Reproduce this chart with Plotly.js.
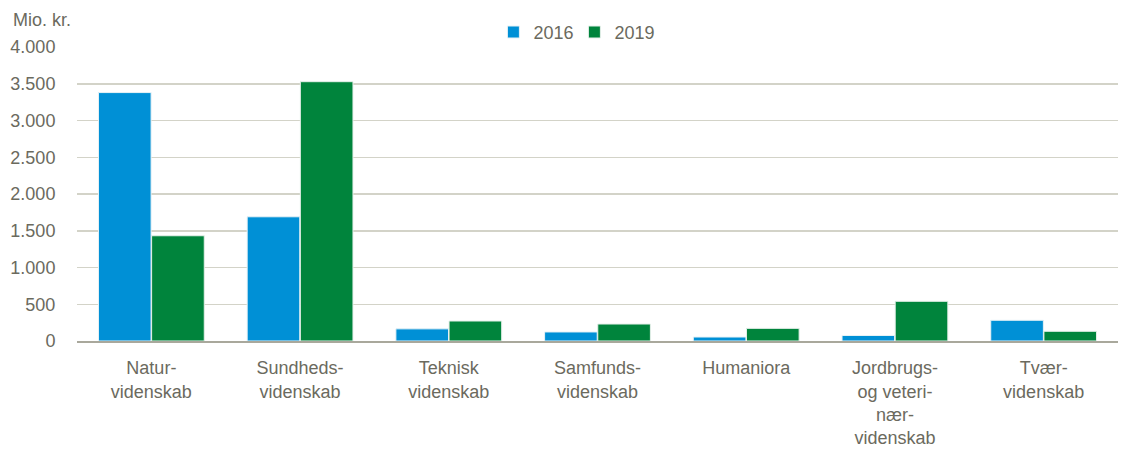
<!DOCTYPE html>
<html>
<head>
<meta charset="utf-8">
<script src="https://cdn.plot.ly/plotly-3.0.1.min.js"></script>
<style>html,body{margin:0;padding:0;background:#fff;}#chart{width:1121px;height:450px;}</style>
</head>
<body>
<div id="chart"></div>
<script>
const categories = ["Natur-<br>videnskab", "Sundheds-<br>videnskab", "Teknisk<br>videnskab", "Samfunds-<br>videnskab", "Humaniora", "Jordbrugs-<br>og veteri-<br>nær-<br>videnskab", "Tvær-<br>videnskab"];
const series2016 = [3380, 1690, 165, 123, 54, 75, 282];
const series2019 = [1432, 3528, 272, 231, 172, 540, 132];
const yTickVals = [0, 500, 1000, 1500, 2000, 2500, 3000, 3500, 4000];
const yTickText = ["0", "500", "1.000", "1.500", "2.000", "2.500", "3.000", "3.500", "4.000"];

const FONT = "'Liberation Sans Narrow', 'Arial Narrow', 'Liberation Sans', Arial, sans-serif";
const TXT = "#6b6a5e";
const FS = 18;

const data = [
  {type: "bar", name: "2016", x: categories, y: series2016,
   marker: {color: "#0090d6", line: {color: "#e8f2f6", width: 1}}},
  {type: "bar", name: "2019", x: categories, y: series2019,
   marker: {color: "#00843c", line: {color: "#e6f0ea", width: 1}}}
];

const layout = {
  width: 1121, height: 450,
  margin: {l: 77, r: 3, t: 47, b: 109},
  paper_bgcolor: "#fff", plot_bgcolor: "#fff",
  font: {family: FONT, size: FS, color: TXT},
  barmode: "group", bargap: 0.285, bargroupgap: 0.01,
  showlegend: true,
  legend: {orientation: "h", x: 0.40, xanchor: "left", y: 1.05, yanchor: "middle",
           font: {family: FONT, size: FS, color: TXT}, itemwidth: 30, tracegroupgap: 0,
           entrywidth: 36, bgcolor: "rgba(0,0,0,0)"},
  xaxis: {showgrid: false, showline: true, linecolor: "#a9a89c", linewidth: 1.5,
          ticks: "outside", ticklen: 10, tickcolor: "rgba(0,0,0,0)",
          tickfont: {family: FONT, size: FS, color: TXT}, fixedrange: true},
  yaxis: {range: [0, 4000], tickvals: yTickVals, ticktext: yTickText,
          showgrid: true, gridcolor: "#d3d3c8", gridwidth: 1.5, zeroline: false,
          showline: false, ticks: "outside", ticklen: 17, tickcolor: "rgba(0,0,0,0)",
          tickfont: {family: FONT, size: FS, color: TXT}, fixedrange: true},
  annotations: [{text: "Mio. kr.", xref: "paper", yref: "paper", x: -0.063, y: 1.092,
                 xanchor: "left", yanchor: "middle", showarrow: false,
                 font: {family: FONT, size: FS, color: TXT}}]
};

Plotly.newPlot("chart", data, layout, {displayModeBar: false, staticPlot: true});
</script>
</body>
</html>
